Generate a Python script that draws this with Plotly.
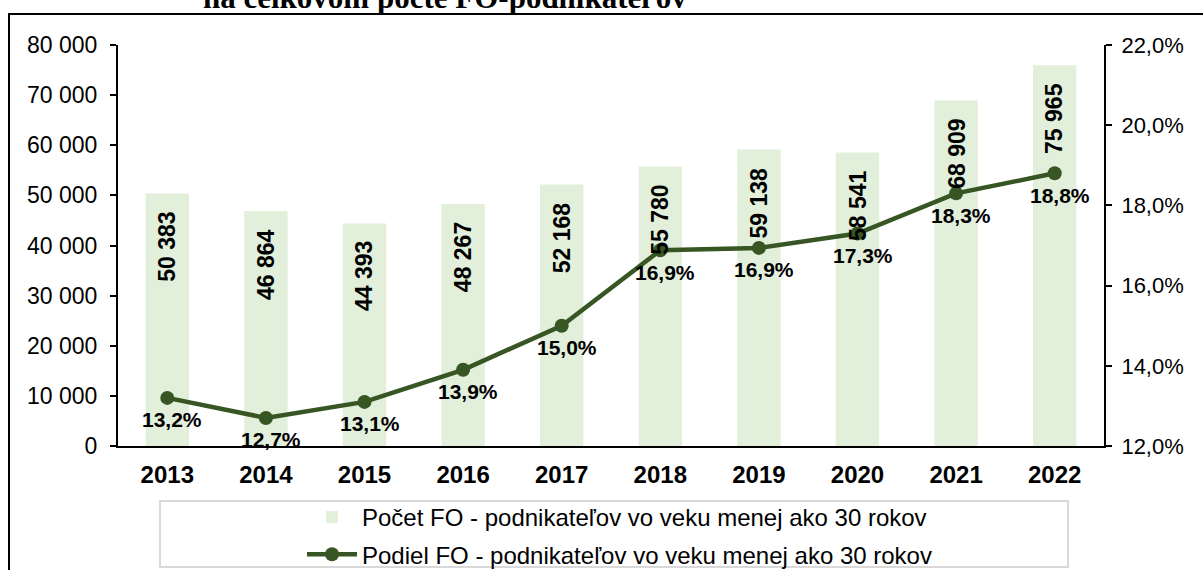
import plotly.graph_objects as go

years = ["2013", "2014", "2015", "2016", "2017", "2018", "2019", "2020", "2021", "2022"]
counts = [50383, 46864, 44393, 48267, 52168, 55780, 59138, 58541, 68909, 75965]
shares = [0.132, 0.127, 0.131, 0.139, 0.150, 0.1688, 0.1694, 0.173, 0.183, 0.188]
left_ticks = [0, 10000, 20000, 30000, 40000, 50000, 60000, 70000, 80000]
right_ticks = [0.12, 0.14, 0.16, 0.18, 0.20, 0.22]

name_bar = "Počet FO - podnikateľov vo veku menej ako 30 rokov"
name_line = "Podiel FO - podnikateľov vo veku menej ako 30 rokov"
title_text = "na celkovom počte FO-podnikateľov"

FONT = "Liberation Sans, Arial, sans-serif"
BAR_COLOR = "#E2EFDA"
LINE_COLOR = "#375623"

W, H = 1203, 570
L, R, T, B = 118, 99, 45, 124
PW, PH = W - L - R, H - T - B


def px(x):
    return (x - L) / PW


def py(y):
    return (H - B - y) / PH


fig = go.Figure()
fig.add_trace(go.Bar(
    x=years, y=counts, name=name_bar, marker=dict(color=BAR_COLOR, line=dict(width=0)),
    yaxis="y", legendgroup="a",
))
fig.add_trace(go.Scatter(
    x=years, y=shares, name=name_line, yaxis="y2", mode="lines+markers",
    line=dict(color=LINE_COLOR, width=4.5), marker=dict(color=LINE_COLOR, size=14),
    legendgroup="b",
))

annotations = []
for i, c in enumerate(counts):
    annotations.append(dict(
        x=i, y=c, xref="x", yref="y", text=f"{c:,}".replace(",", " "),
        textangle=-90, showarrow=False, yanchor="middle", xanchor="center", yshift=-53,
        font=dict(family=FONT, size=23, color="black", weight="bold"),
    ))
for i, s in enumerate(shares):
    annotations.append(dict(
        x=i, y=s, xref="x", yref="y2", text=f"{s * 100:.1f}%".replace(".", ","),
        showarrow=False, yanchor="middle", xanchor="center", yshift=-22, xshift=5,
        font=dict(family=FONT, size=21, color="black", weight="bold"),
    ))
annotations.append(dict(
    x=px(445), y=py(17), xref="paper", yref="paper", text=title_text, showarrow=False,
    xanchor="center", yanchor="bottom",
    font=dict(family="Liberation Serif, Times New Roman, serif", size=31, color="black", weight="bold"),
))

shapes = [
    dict(type="rect", xref="paper", yref="paper", x0=px(9), y0=py(14), x1=px(1230), y1=py(600),
         line=dict(color="black", width=2), fillcolor="rgba(0,0,0,0)", layer="below"),
    dict(type="rect", xref="paper", yref="paper", x0=px(160), y0=py(501), x1=px(1068), y1=py(567),
         line=dict(color="#D9D9D9", width=2), fillcolor="rgba(0,0,0,0)", layer="below"),
]

fig.update_layout(
    width=W, height=H, margin=dict(l=L, r=R, t=T, b=B, autoexpand=False),
    paper_bgcolor="white", plot_bgcolor="white", separators=", ",
    font=dict(family=FONT, size=22, color="black"),
    bargap=0.56, showlegend=True,
    legend=dict(x=px(302), y=py(495), xanchor="left", yanchor="top", orientation="v",
                font=dict(family=FONT, size=24, color="black"), bgcolor="rgba(0,0,0,0)",
                borderwidth=0, tracegroupgap=3, traceorder="grouped", itemwidth=50),
    xaxis=dict(type="category", categoryorder="array", categoryarray=years,
               range=[-0.5, len(years) - 0.5], showline=True, linecolor="black", linewidth=2,
               ticks="", showgrid=False, tickfont=dict(family=FONT, size=24, weight="bold"),
               ticklabelstandoff=6),
    yaxis=dict(range=[0, 80000], tickvals=left_ticks, tickformat=",d", showline=True,
               linecolor="black", linewidth=2, ticks="outside", ticklen=6, tickwidth=2,
               tickcolor="black", showgrid=False, zeroline=False, ticklabelstandoff=8,
               tickfont=dict(family=FONT, size=23)),
    yaxis2=dict(range=[0.12, 0.22], tickvals=right_ticks, tickformat=".1%", overlaying="y",
                side="right", showline=True, linecolor="black", linewidth=2, ticks="outside",
                ticklen=6, tickwidth=2, tickcolor="black", showgrid=False, zeroline=False,
                ticklabelstandoff=5, tickfont=dict(family=FONT, size=22)),
    annotations=annotations, shapes=shapes,
)

fig.write_html(
    "out.html",
    config={"displayModeBar": False},
    post_script="document.body.style.margin='0';document.body.style.overflow='hidden';",
)
